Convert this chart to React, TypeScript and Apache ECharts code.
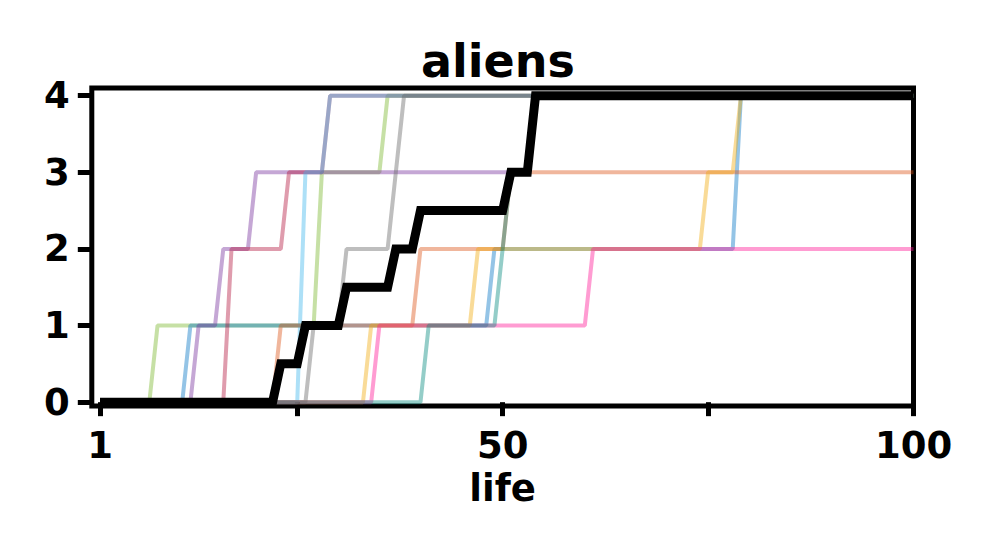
import React, { useEffect, useRef } from "react";
import * as echarts from "echarts";

// x domain: life 1..100
const lifeValues: number[] = [];
for (let i = 1; i <= 100; i++) lifeValues.push(i);

// Each series: [life from which the value holds, aliens value]
const greenSteps = [[1, 0], [8, 1], [28, 3], [36, 4]];
const blueSteps = [[1, 0], [12, 1], [49, 2], [79, 4]];
const purpleSteps = [[1, 0], [13, 1], [16, 2], [20, 3], [54, 4]];
const redSteps = [[1, 0], [17, 2], [24, 3], [29, 4]];
const skySteps = [[1, 0], [26, 3], [29, 4]];
const graySteps = [[1, 0], [27, 1], [31, 2], [37, 3], [38, 4]];
const orangeSteps = [[1, 0], [23, 1], [40, 2], [51, 3]];
const yellowSteps = [[1, 0], [34, 1], [47, 2], [75, 3], [79, 4]];
const pinkSteps = [[1, 0], [35, 1], [61, 2]];
const tealSteps = [[1, 0], [41, 1], [50, 2], [51, 3], [54, 4]];
const medianSteps = [[1, 0], [23, 0.5], [26, 1], [31, 1.5], [37, 2], [40, 2.5], [51, 3], [54, 4]];

const runNames = ["green", "blue", "purple", "red", "sky", "gray", "orange", "yellow", "pink", "teal"];
const runSteps = [greenSteps, blueSteps, purpleSteps, redSteps, skySteps, graySteps, orangeSteps, yellowSteps, pinkSteps, tealSteps];
const runColors = [
  "rgba(120,180,40,0.42)",
  "rgba(0,115,195,0.42)",
  "rgba(117,45,155,0.42)",
  "rgba(178,20,60,0.42)",
  "rgba(60,180,235,0.42)",
  "rgba(100,100,100,0.42)",
  "rgba(220,80,20,0.42)",
  "rgba(240,170,10,0.42)",
  "rgba(255,20,147,0.42)",
  "rgba(0,135,125,0.42)",
];

const xTickValues = [1, 25, 50, 75, 100];
const xLabelValues = [1, 50, 100];
const yTickValues = [0, 1, 2, 3, 4];

function expand(steps: number[][]): number[][] {
  return lifeValues.map((x) => {
    let v = 0;
    for (const [s, val] of steps) if (x >= s) v = val;
    return [x, v];
  });
}

const FONT = "DejaVu Sans";

export default function App() {
  const ref = useRef<HTMLDivElement>(null);
  useEffect(() => {
    if (!ref.current) return;
    const chart = echarts.init(ref.current, null, { renderer: "svg" });
    const series: any[] = runSteps.map((steps, i) => ({
      name: runNames[i],
      type: "line",
      data: expand(steps),
      showSymbol: false,
      symbol: "none",
      lineStyle: { width: 4, color: runColors[i] },
      itemStyle: { color: runColors[i] },
      z: 2,
    }));
    series.push({
      name: "median",
      type: "line",
      data: expand(medianSteps),
      showSymbol: false,
      symbol: "none",
      lineStyle: { width: 9, color: "#000", join: "miter" },
      z: 5,
    });
    chart.setOption({
      animation: false,
      backgroundColor: "#fff",
      title: {
        text: "aliens",
        left: "center",
        top: 33,
        textStyle: { fontFamily: FONT, fontWeight: "bold", fontSize: 46, color: "#000" },
      },
      grid: {
        left: 91.8,
        right: 82.5,
        top: 88,
        bottom: 148,
        show: true,
        borderColor: "#000",
        borderWidth: 5,
        backgroundColor: "transparent",
        containLabel: false,
      },
      xAxis: {
        type: "value",
        min: 0,
        max: 100,
        name: "life",
        nameLocation: "middle",
        nameGap: 64,
        nameTextStyle: { fontFamily: FONT, fontWeight: "bold", fontSize: 37, color: "#000" },
        axisLine: { show: false },
        axisTick: { show: true, length: 14, lineStyle: { width: 5, color: "#000" }, customValues: xTickValues },
        axisLabel: {
          fontFamily: FONT,
          fontWeight: "bold",
          fontSize: 37,
          color: "#000",
          margin: 21,
          customValues: xLabelValues,
        },
        splitLine: { show: false },
      },
      yAxis: {
        type: "value",
        min: -0.05,
        max: 4.1,
        axisLine: { show: false },
        axisTick: { show: true, length: 14, lineStyle: { width: 5, color: "#000" }, customValues: yTickValues },
        axisLabel: {
          fontFamily: FONT,
          fontWeight: "bold",
          fontSize: 37,
          color: "#000",
          margin: 22,
          customValues: yTickValues,
        },
        splitLine: { show: false },
      },
      series,
    });
    return () => chart.dispose();
  }, []);
  return <div ref={ref} style={{ position: "absolute", left: 0, top: 0, width: 996, height: 554 }} />;
}
